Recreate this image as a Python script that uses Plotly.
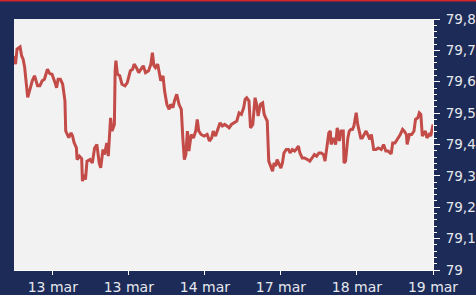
import plotly.graph_objects as go

# sample index (time axis) and exchange rate values
t = [0, 2, 4, 8, 10, 12, 14, 16, 18, 21, 24, 27, 31, 34, 37, 40, 44, 47, 50, 54,
     56, 58, 61, 64, 67, 68, 70, 72, 75, 77, 79, 82, 83, 86, 89, 90, 92, 94, 96, 100,
     103, 106, 109, 112, 114, 117, 119, 122, 124, 125, 127, 129, 132, 133, 134, 136, 139, 142, 146, 149,
     153, 156, 158, 161, 164, 167, 170, 173, 177, 180, 182, 184, 186, 189, 193, 196, 198, 201, 204, 206,
     209, 211, 214, 217, 220, 222, 224, 226, 228, 230, 233, 236, 239, 241, 243, 246, 250, 254, 257, 260,
     262, 265, 268, 271, 274, 277, 280, 283, 286, 289, 293, 296, 299, 302, 304, 306, 309, 311, 314, 317,
     319, 321, 324, 327, 329, 331, 333, 335, 338, 340, 342, 344, 346, 349, 351, 353, 355, 358, 361, 363,
     366, 369, 371, 374, 376, 379, 382, 386, 389, 392, 395, 398, 401, 404, 407, 409, 411, 414, 416, 417,
     420, 423, 425, 428, 430, 433, 434, 436, 439, 441, 443, 445, 447, 450, 452, 454, 456, 458, 461, 463,
     465, 468, 470, 473, 476, 479, 483, 486, 489, 492, 496, 498, 501, 504, 508, 511, 513, 516, 517, 520,
     523, 526, 528, 531, 533, 535, 537, 541, 543, 546, 548, 551]
rate = [79.682, 79.656, 79.704, 79.711, 79.683, 79.672, 79.646, 79.592, 79.550, 79.576,
        79.603, 79.619, 79.587, 79.587, 79.603, 79.608, 79.640, 79.626, 79.624, 79.597,
        79.581, 79.608, 79.608, 79.592, 79.539, 79.443, 79.432, 79.422, 79.437, 79.427,
        79.406, 79.390, 79.352, 79.363, 79.355, 79.283, 79.304, 79.288, 79.347, 79.352,
        79.341, 79.389, 79.400, 79.341, 79.326, 79.384, 79.368, 79.405, 79.363, 79.405,
        79.485, 79.443, 79.464, 79.635, 79.667, 79.624, 79.619, 79.592, 79.587, 79.597,
        79.635, 79.640, 79.656, 79.645, 79.629, 79.640, 79.651, 79.629, 79.635, 79.656,
        79.693, 79.651, 79.645, 79.656, 79.603, 79.619, 79.571, 79.528, 79.512, 79.528,
        79.517, 79.539, 79.560, 79.528, 79.512, 79.421, 79.352, 79.368, 79.443, 79.379,
        79.432, 79.421, 79.443, 79.480, 79.443, 79.432, 79.427, 79.432, 79.411, 79.421,
        79.443, 79.427, 79.448, 79.469, 79.459, 79.464, 79.459, 79.453, 79.464, 79.469,
        79.475, 79.501, 79.496, 79.517, 79.544, 79.549, 79.539, 79.453, 79.464, 79.549,
        79.528, 79.491, 79.528, 79.533, 79.496, 79.485, 79.475, 79.347, 79.325, 79.315,
        79.341, 79.331, 79.352, 79.336, 79.325, 79.341, 79.373, 79.384, 79.384, 79.373,
        79.384, 79.379, 79.384, 79.395, 79.373, 79.357, 79.357, 79.352, 79.347, 79.357,
        79.368, 79.363, 79.373, 79.373, 79.368, 79.347, 79.384, 79.437, 79.443, 79.400,
        79.421, 79.400, 79.453, 79.411, 79.443, 79.443, 79.341, 79.347, 79.421, 79.443,
        79.448, 79.448, 79.459, 79.501, 79.464, 79.443, 79.421, 79.421, 79.437, 79.443,
        79.432, 79.416, 79.432, 79.384, 79.384, 79.389, 79.384, 79.400, 79.379, 79.379,
        79.370, 79.405, 79.405, 79.416, 79.432, 79.448, 79.443, 79.432, 79.400, 79.432,
        79.432, 79.443, 79.480, 79.485, 79.501, 79.496, 79.427, 79.443, 79.421, 79.432,
        79.427, 79.464]

tick_pos = [51, 151, 251, 351, 451, 551]
tick_labels = ["13 mar", "13 mar", "14 mar", "17 mar", "18 mar", "19 mar"]

fig = go.Figure()
fig.add_trace(go.Scatter(x=t, y=rate, mode="lines",
                         line=dict(color="#c34c48", width=3), hoverinfo="skip"))

fig.update_layout(
    width=476, height=295,
    margin=dict(l=14, r=43, t=19, b=25, autoexpand=False),
    paper_bgcolor="#1c2b57",
    plot_bgcolor="#f2f2f2",
    separators=",.",
    showlegend=False,
    font=dict(family="DejaVu Sans", size=14, color="#e6e8ee"),
    xaxis=dict(range=[0, 551], tickvals=tick_pos, ticktext=tick_labels, automargin=False,
               showgrid=False, zeroline=False, showline=True, linecolor="white",
               linewidth=1, ticks="outside", ticklen=4, tickcolor="white"),
    yaxis=dict(range=[79, 79.8], dtick=0.1, side="right", showgrid=False, automargin=False,
               zeroline=False, showline=True, linecolor="white", linewidth=1,
               ticks="outside", ticklen=6, tickcolor="white", ticklabelstandoff=3,
               tickfont=dict(size=13.5),
               minor=dict(dtick=0.02, ticks="outside", ticklen=3, tickcolor="white")),
    shapes=[dict(type="rect", xref="paper", yref="paper", x0=-0.1, x1=1.2,
                 y0=1.0 + 17.5 / 251, y1=1.2, fillcolor="#d0262c", line=dict(width=0))],
)

fig.write_html("out.html", config={"displayModeBar": False},
               post_script="document.body.style.margin='0';document.body.style.overflow='hidden';")
